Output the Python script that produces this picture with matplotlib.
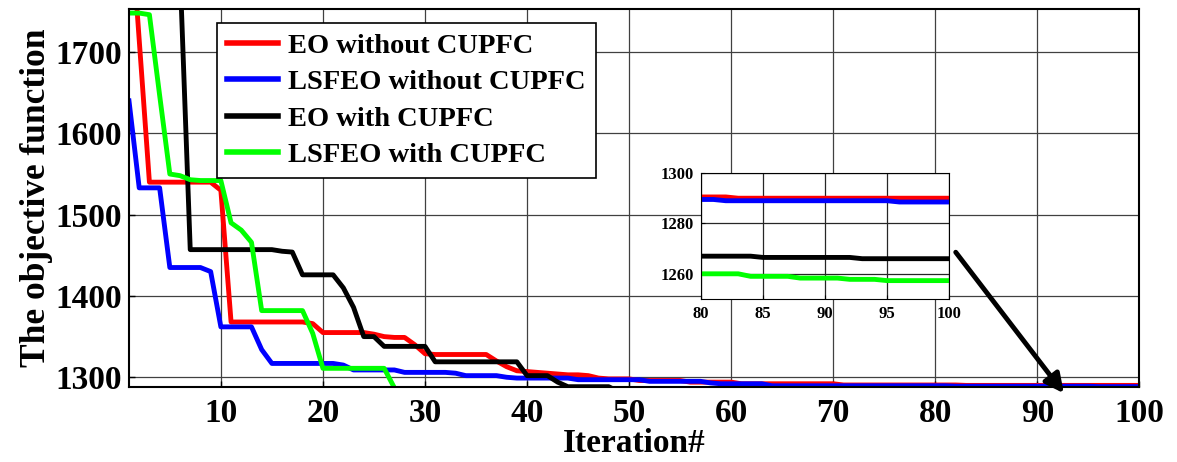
import matplotlib
matplotlib.use("Agg")
import matplotlib.pyplot as plt
import numpy as np

plt.rcParams['font.family'] = ['Liberation Serif', 'DejaVu Serif']
plt.rcParams['font.weight'] = 'bold'

iterations = list(range(1, 101))

eo_without = ([1890, 1715] + [1540] * 7 + [1530, 1368] + [1368] * 7 + [1366, 1355]
              + [1355] * 4 + [1353, 1350, 1349, 1349, 1340, 1329] + [1328] * 6
              + [1320, 1313, 1308, 1307, 1306, 1305, 1304, 1303, 1303, 1302, 1299]
              + [1298] * 3 + [1296] * 5 + [1294] * 5 + [1292] * 10 + [1290.5] * 12
              + [1290] * 18)

lsfeo_without = ([1640, 1533, 1533, 1533, 1435, 1435, 1435, 1435, 1430, 1362]
                 + [1362] * 3 + [1334, 1317] + [1317] * 6 + [1315, 1309] + [1309] * 4
                 + [1306] * 5 + [1305, 1302] + [1302] * 3 + [1300] + [1299] * 6
                 + [1297] * 7 + [1295] * 6 + [1293] + [1292] * 5 + [1289.5] * 18
                 + [1289] * 14 + [1288.5] * 5)

eo_with = ([2050, 2000, 1950, 1900, 1850, 1800, 1457] + [1457] * 8 + [1455, 1454, 1426]
           + [1426] * 3 + [1410, 1386, 1350, 1350, 1338] + [1338] * 4 + [1319] + [1319] * 8
           + [1302] * 3 + [1294] + [1288.4] * 5 + [1282, 1275] + [1270] * 10
           + [1268] * 10 + [1267] * 14 + [1266.5] * 8 + [1266] * 8)

lsfeo_with = ([1748, 1748, 1746, 1647, 1550, 1548, 1543, 1542, 1542, 1542, 1490, 1481,
               1466, 1382] + [1382] * 4 + [1354, 1311] + [1311] * 6 + [1287, 1275, 1270]
              + [1268] * 11 + [1265] * 20 + [1262] * 19 + [1260] * 4 + [1259] * 4
              + [1258.3] * 4 + [1257.8] * 3 + [1257.3] * 6)

series = [
    ("EO without CUPFC", eo_without, "#ff0000"),
    ("LSFEO without CUPFC", lsfeo_without, "#0000ff"),
    ("EO with CUPFC", eo_with, "#000000"),
    ("LSFEO with CUPFC", lsfeo_with, "#00ff00"),
]

main_xticks = list(range(10, 101, 10))
main_yticks = [1300, 1400, 1500, 1600, 1700]
inset_xticks = [80, 85, 90, 95, 100]
inset_yticks = [1260, 1280, 1300]

fig = plt.figure(figsize=(11.77, 4.62), dpi=100)
ax = fig.add_axes([0.1096, 0.1623, 0.8585, 0.8182])

for label, vals, col in series:
    ax.plot(iterations, vals, color=col, lw=3.5, label=label, solid_joinstyle='round')

ax.set_xlim(1, 100)
ax.set_ylim(1288, 1753)
ax.set_xticks(main_xticks)
ax.set_yticks(main_yticks)
ax.grid(True, color='0.25', lw=0.9, ls='-')
ax.set_axisbelow(True)
ax.tick_params(direction='in', length=4, labelsize=24, width=1)
ax.tick_params(axis='x', pad=8)
ax.tick_params(axis='y', pad=5)
for lab in ax.get_xticklabels() + ax.get_yticklabels():
    lab.set_fontweight('bold')
for sp in ax.spines.values():
    sp.set_linewidth(1.5)
ax.set_xlabel("Iteration#", fontsize=24, fontweight='bold', labelpad=-1)
ax.set_ylabel("The objective function", fontsize=25.5, fontweight='bold', labelpad=2)

leg = ax.legend(loc='upper left', bbox_to_anchor=(0.087, 0.962), borderaxespad=0,
                frameon=True, fancybox=False, edgecolor='black', framealpha=1,
                handlelength=1.8, labelspacing=0.36, borderpad=0.35, handletextpad=0.35,
                prop={'weight': 'bold', 'size': 20.5})
leg.get_frame().set_linewidth(1.2)
for h in leg.get_lines():
    h.set_linewidth(4)

# Inset
ins = fig.add_axes([0.5956, 0.3528, 0.2107, 0.2727])
for label, vals, col in series:
    ins.plot(iterations, vals, color=col, lw=3.5)
ins.set_xlim(80, 100)
ins.set_ylim(1250, 1300)
ins.set_xticks(inset_xticks)
ins.set_yticks(inset_yticks)
ins.grid(True, color='0.15', lw=0.9)
ins.tick_params(direction='in', length=3, labelsize=12, pad=5)
for lab in ins.get_xticklabels() + ins.get_yticklabels():
    lab.set_fontweight('bold')
ins.set_facecolor('white')

ax.annotate("", xy=(92.6, 1280.3), xytext=(82.0, 1453.8), xycoords='data',
            annotation_clip=False,
            arrowprops=dict(arrowstyle='-|>', color='black', lw=3.5, mutation_scale=28,
                            shrinkA=0, shrinkB=0))

fig.savefig("out.png", dpi=100)
